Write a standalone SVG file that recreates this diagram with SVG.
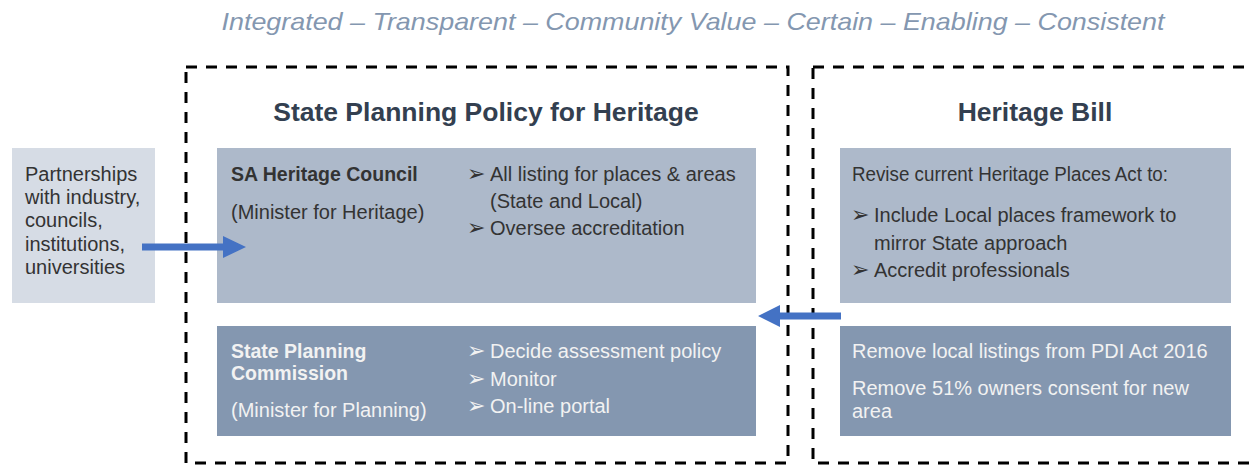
<svg xmlns="http://www.w3.org/2000/svg" width="1252" height="466" viewBox="0 0 1252 466">
<defs>
<style>
.t{font-family:"Liberation Sans",Arial,sans-serif;}
.dash{fill:none;stroke:#000;stroke-width:3;stroke-dasharray:11 9;}
.hdr{font-family:"Liberation Sans",Arial,sans-serif;font-weight:bold;font-size:26.5px;fill:#333f50;text-anchor:middle;}
.dk{font-family:"Liberation Sans",Arial,sans-serif;font-size:20px;fill:#333333;}
.lt{font-family:"Liberation Sans",Arial,sans-serif;font-size:20px;fill:#f2f2f2;}
.b{font-weight:bold;font-size:19.5px;}
.bul{font-family:"DejaVu Sans",sans-serif;font-size:22px;}
.arrow{fill:#4472c4;}
</style>
</defs>
<text class="t" x="693" y="30" text-anchor="middle" font-size="24" font-style="italic" fill="#8497b0" textLength="943" lengthAdjust="spacingAndGlyphs">Integrated – Transparent – Community Value – Certain – Enabling – Consistent</text>

<g id="policy-frame">
<rect class="dash" x="186" y="67" width="602" height="396"/>
<text class="hdr" x="486" y="121">State Planning Policy for Heritage</text>
</g>
<g id="bill-frame">
<rect class="dash" x="813" y="67" width="460" height="396"/>
<text class="hdr" x="1035" y="121">Heritage Bill</text>
</g>

<g id="partnerships">
<rect x="12" y="148" width="143" height="155" fill="#d6dce5"/>
<text class="dk" x="25" y="181">Partnerships</text>
<text class="dk" x="25" y="204">with industry,</text>
<text class="dk" x="25" y="227">councils,</text>
<text class="dk" x="25" y="251">institutions,</text>
<text class="dk" x="25" y="274">universities</text>
</g>

<g id="heritage-council">
<rect x="217" y="148" width="539" height="155" fill="#adb9ca"/>
<text class="dk b" x="231" y="181" fill="#262626">SA Heritage Council</text>
<text class="dk" x="231" y="219">(Minister for Heritage)</text>
<text class="dk" x="467" y="181"><tspan class="bul">➢</tspan><tspan x="490">All listing for places &amp; areas</tspan></text>
<text class="dk" x="490" y="208">(State and Local)</text>
<text class="dk" x="467" y="235"><tspan class="bul">➢</tspan><tspan x="490">Oversee accreditation</tspan></text>
</g>

<g id="planning-commission">
<rect x="217" y="326" width="539" height="110" fill="#8497b0"/>
<text class="lt b" x="231" y="358">State Planning</text>
<text class="lt b" x="231" y="380">Commission</text>
<text class="lt" x="231" y="417">(Minister for Planning)</text>
<text class="lt" x="467" y="358"><tspan class="bul">➢</tspan><tspan x="490">Decide assessment policy</tspan></text>
<text class="lt" x="467" y="386"><tspan class="bul">➢</tspan><tspan x="490">Monitor</tspan></text>
<text class="lt" x="467" y="413"><tspan class="bul">➢</tspan><tspan x="490">On-line portal</tspan></text>
</g>

<g id="revise-act">
<rect x="840" y="148" width="391" height="155" fill="#adb9ca"/>
<text class="dk" x="852" y="181" textLength="316" lengthAdjust="spacingAndGlyphs">Revise current Heritage Places Act to:</text>
<text class="dk" x="851" y="222"><tspan class="bul">➢</tspan><tspan x="874">Include Local places framework to</tspan></text>
<text class="dk" x="874" y="250">mirror State approach</text>
<text class="dk" x="851" y="277"><tspan class="bul">➢</tspan><tspan x="874">Accredit professionals</tspan></text>
</g>

<g id="remove-listings">
<rect x="840" y="326" width="391" height="110" fill="#8497b0"/>
<text class="lt" x="852" y="358">Remove local listings from PDI Act 2016</text>
<text class="lt" x="852" y="395">Remove 51% owners consent for new</text>
<text class="lt" x="852" y="418">area</text>
</g>

<g id="connectors">
<path class="arrow" d="M142 243.5 H223 V236 L246 247 L223 258 V250.5 H142 Z"/>
<path class="arrow" d="M841 312.5 H780 V305 L758 316 L780 327 V319.5 H841 Z"/>
</g>
</svg>
